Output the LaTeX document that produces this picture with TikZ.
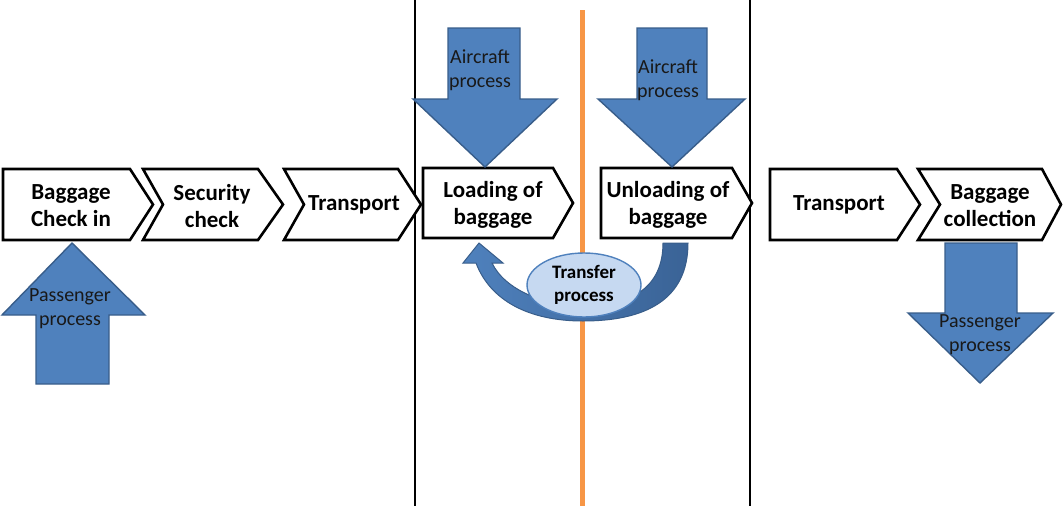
\documentclass[tikz,border=0pt]{standalone}
\usepackage{fontspec}
\setmainfont{Carlito}
\usetikzlibrary{shapes.geometric}
\definecolor{procblue}{HTML}{4F81BD}
\definecolor{procedge}{HTML}{385D8A}
\definecolor{procdark}{HTML}{3A6396}
\definecolor{transferfill}{HTML}{C6D9F1}
\definecolor{divorange}{HTML}{F79646}
\tikzset{
  chevbox/.style={draw=black, line width=2.6pt, fill=white, line join=miter},
  chevtext/.style={align=center, inner sep=0pt, font=\fontsize{23}{27}\selectfont\bfseries},
  blockarrow/.style={fill=procblue, draw=procedge, line width=1.4pt, line join=miter},
  arrowtext/.style={align=center, inner sep=0pt, text=black!90, font=\fontsize{20}{24}\selectfont},
  divider/.style={draw=black, line width=1.3pt},
}
\begin{document}
\begin{tikzpicture}[x=1pt, y=-1pt]
\useasboundingbox (0,0) rectangle (1063,506);

% phase dividers
\draw[divider] (415,0) -- (415,506);
\draw[divider] (750,0) -- (750,506);
\draw[draw=divorange, line width=5pt] (582,10) -- (582,506);

% process chevrons
\draw[chevbox] (3,169) -- (130,169) -- (153,204.5) -- (130,240) -- (3,240) -- cycle;
\draw[chevbox] (143,169) -- (258,169) -- (283,204.5) -- (258,240) -- (143,240) -- (163,204.5) -- cycle;
\draw[chevbox] (284,169) -- (398,169) -- (421,204.5) -- (398,240) -- (284,240) -- (304,204.5) -- cycle;
\draw[chevbox] (423,168) -- (553,168) -- (573,203) -- (553,238) -- (423,238) -- cycle;
\draw[chevbox] (601,168) -- (732,168) -- (752,203) -- (732,238) -- (601,238) -- cycle;
\draw[chevbox] (770,169) -- (897,169) -- (920,204.5) -- (897,240) -- (770,240) -- cycle;
\draw[chevbox] (918,169) -- (1042,169) -- (1061,204.5) -- (1042,240) -- (918,240) -- (940,204.5) -- cycle;

\node[chevtext] (checkin)   at (71,206)  {Baggage\\Check in};
\node[chevtext] (security)  at (212,206) {Security\\check};
\node[chevtext] (transpA)   at (354,205) {Transport};
\node[chevtext] (loading)   at (493,205) {Loading of\\baggage};
\node[chevtext] (unloading) at (668,205) {Unloading of\\baggage};
\node[chevtext] (transpB)   at (839,205) {Transport};
\node[chevtext] (collect)   at (990,206) {Baggage\\collection};

% passenger process arrow into check-in
\draw[blockarrow] (72,243) -- (145,315) -- (109,315) -- (109,384) -- (36,384) -- (36,315) -- (2,315) -- cycle;
\node[arrowtext] (paxIn) at (70,309) {Passenger\\process};

% aircraft process arrows
\draw[blockarrow] (448,28) -- (520,28) -- (520,99) -- (557,99) -- (485,167) -- (413,99) -- (448,99) -- cycle;
\node[arrowtext] (acLoad) at (480,70) {Aircraft\\process};
\draw[blockarrow] (637,28) -- (707,28) -- (707,99) -- (745,99) -- (672,167) -- (598,99) -- (637,99) -- cycle;
\node[arrowtext] (acUnload) at (668,80) {Aircraft\\process};

% passenger process arrow out of collection
\draw[blockarrow] (945,243) -- (1017,243) -- (1017,313) -- (1053,313) -- (980,383) -- (908,313) -- (945,313) -- cycle;
\node[arrowtext] (paxOut) at (980,335) {Passenger\\process};

% transfer loop from unloading back to loading
\path[left color=procblue, right color=procdark, draw=procedge, line width=1pt, line join=miter]
  (688,243) .. controls (688,300) and (645,321) .. (583,321)
  .. controls (528,321) and (490,300) .. (476,263)
  -- (463,263) -- (479,243) -- (503,263) -- (492,263)
  .. controls (505,290) and (545,306) .. (583,306)
  .. controls (632,306) and (663,287) .. (663,243) -- cycle;

\node[ellipse, fill=transferfill, draw=procblue, line width=1.4pt, minimum width=114pt, minimum height=64pt, inner sep=0pt,
      align=center, font=\fontsize{19}{23}\selectfont\bfseries] (transfer) at (584,285) {Transfer\\process};
\end{tikzpicture}
\end{document}
